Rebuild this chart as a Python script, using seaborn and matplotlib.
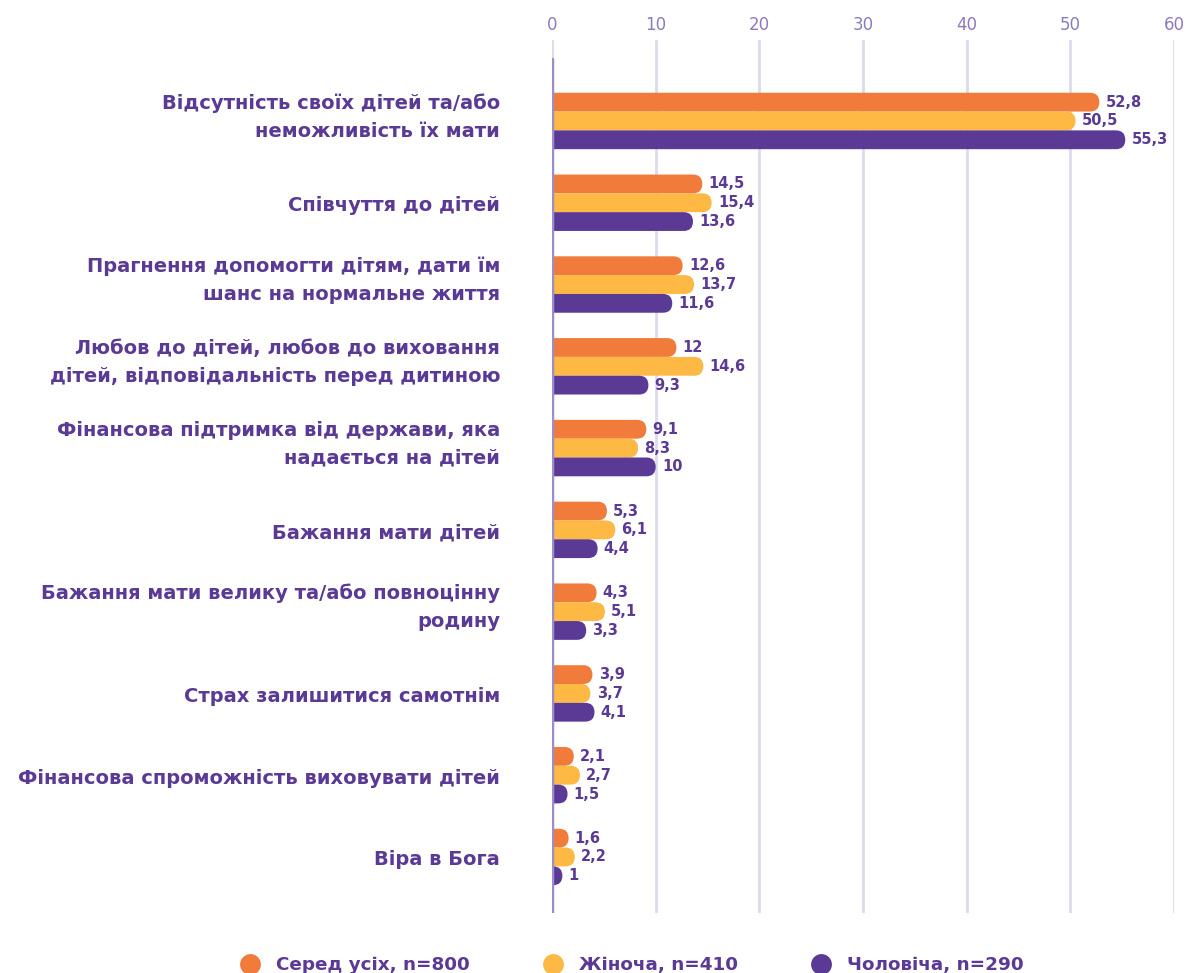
import pandas as pd
import seaborn as sns
import matplotlib.pyplot as plt
import matplotlib.transforms as mtransforms
from matplotlib.patches import FancyBboxPatch
from matplotlib.lines import Line2D

# Data
categories = [
    'Відсутність своїх дітей та/або\nнеможливість їх мати',
    'Співчуття до дітей',
    'Прагнення допомогти дітям, дати їм\nшанс на нормальне життя',
    'Любов до дітей, любов до виховання\nдітей, відповідальність перед дитиною',
    'Фінансова підтримка від держави, яка\nнадається на дітей',
    'Бажання мати дітей',
    'Бажання мати велику та/або повноцінну\nродину',
    'Страх залишитися самотнім',
    'Фінансова спроможність виховувати дітей',
    'Віра в Бога',
]
series_names = ['Серед усіх, n=800', 'Жіноча, n=410', 'Чоловіча, n=290']
all_vals = [52.8, 14.5, 12.6, 12, 9.1, 5.3, 4.3, 3.9, 2.1, 1.6]
female_vals = [50.5, 15.4, 13.7, 14.6, 8.3, 6.1, 5.1, 3.7, 2.7, 2.2]
male_vals = [55.3, 13.6, 11.6, 9.3, 10, 4.4, 3.3, 4.1, 1.5, 1]
xticks = [0, 10, 20, 30, 40, 50, 60]

colors = ['#F07B3A', '#FDB944', '#5B3A96']
text_color = '#5B3A96'
tick_color = '#8C7BC0'

rows = []
for name, vals in zip(series_names, [all_vals, female_vals, male_vals]):
    for c, v in zip(categories, vals):
        rows.append({'cat': c, 'value': v, 'group': name})
df = pd.DataFrame(rows)

sns.set_style("white")
plt.rcParams['font.family'] = ['DejaVu Sans']

W, H = 1191, 973
fig = plt.figure(figsize=(W / 100, H / 100), dpi=100)
ax_left, ax_right, ax_top, ax_bottom = 552, 1174, 40, 913
ax = fig.add_axes([ax_left / W, 1 - ax_bottom / H, (ax_right - ax_left) / W, (ax_bottom - ax_top) / H])

sns.barplot(data=df, y='cat', x='value', hue='group', orient='h', width=0.69,
            palette=colors, order=categories, hue_order=series_names,
            legend=False, ax=ax)

ax.set_xlim(0, 60)
ax.set_ylim(9.685, -0.99)

# pixel scale for rounded caps
px_per_x = (ax_right - ax_left) / 60.0

# replace bars with rounded-end bars
for ci, cont in enumerate(ax.containers):
    for rect in cont.patches:
        x0, y0 = rect.get_x(), rect.get_y()
        w, h = rect.get_width(), rect.get_height()
        r = 9.3 / px_per_x
        m = abs(h) / 2 / r
        p = FancyBboxPatch((-r, y0), w + r, h,
                           boxstyle=f"round,pad=0,rounding_size={r}",
                           mutation_aspect=m, facecolor=colors[ci],
                           edgecolor='none', zorder=3)
        ax.add_patch(p)
        rect.remove()
        label = f"{w:g}".replace('.', ',')
        ax.text(w + 0.6, y0 + h / 2, label, va='center', ha='left',
                fontsize=10.5, color=text_color, fontweight='semibold', zorder=4)

ax.grid(axis='x', color='#DDDAEE', linewidth=2, zorder=0)
ax.grid(axis='y', visible=False)
ax.set_axisbelow(True)
for s in ['top', 'right', 'bottom', 'left']:
    ax.spines[s].set_visible(False)
ax.axvline(0, ymin=0, ymax=0.978, color='#9C8DCB', linewidth=2.5, zorder=5)

ax.xaxis.tick_top()
ax.set_xticks(xticks)
ax.set_xticklabels([str(t) for t in xticks])
ax.tick_params(axis='x', length=0, pad=4, labelsize=12, labelcolor=tick_color)
ax.tick_params(axis='y', length=0)
ax.set_yticklabels([])
ax.set_xlabel('')
ax.set_ylabel('')

# category labels, right aligned left of the axis
base = mtransforms.blended_transform_factory(ax.transAxes, ax.transData)
for i, c in enumerate(categories):
    dy = 4 if '\n' in c else -3
    tr = base + mtransforms.ScaledTranslation(-52 / 100, dy / 100, fig.dpi_scale_trans)
    ax.text(0, i, c, transform=tr, ha='right', va='center', fontsize=14,
            fontweight='semibold', color=text_color, linespacing=1.6)

handles = [Line2D([0], [0], marker='o', linestyle='', markersize=15,
                  markerfacecolor=c, markeredgecolor='none') for c in colors]
leg = fig.legend(handles, series_names, loc='lower center', ncol=3,
                 bbox_to_anchor=(0.527, -0.018), frameon=False,
                 fontsize=13.2, columnspacing=3.5, handletextpad=0.45)
for t in leg.get_texts():
    t.set_color(text_color)
    t.set_fontweight('semibold')

plt.savefig('out.png', dpi=100)
plt.close()
